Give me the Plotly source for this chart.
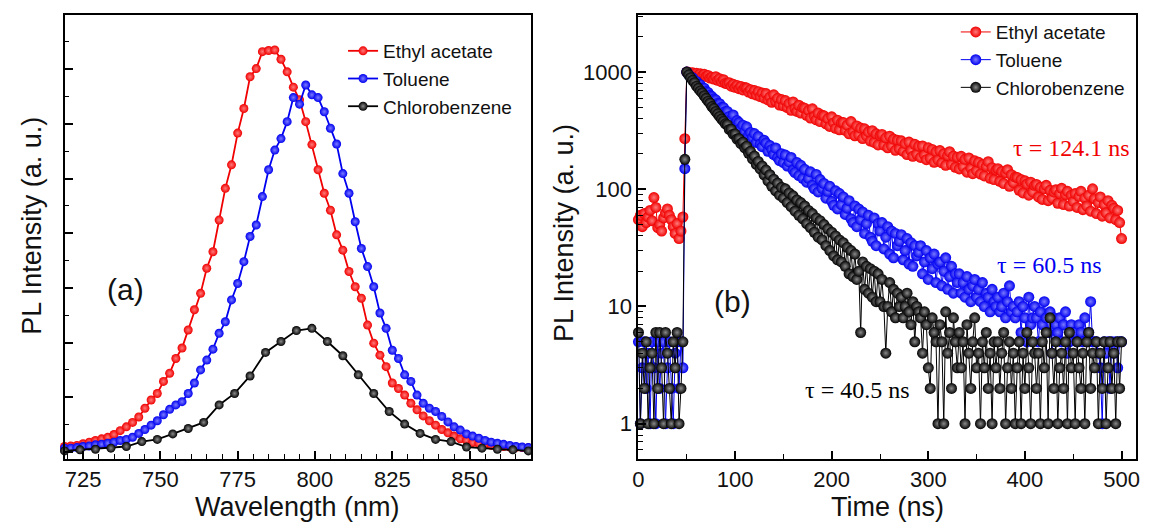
import plotly.graph_objects as go

# ---------------- Panel (a): PL spectra ----------------
wavelength_nm = list(range(719, 870, 2))        # 719 ... 869
wavelength_cb = list(range(719, 870, 5))        # 719 ... 869

pl_ethyl_acetate = [
    0.10, 0.11, 0.12, 0.15, 0.18, 0.21, 0.24, 0.27, 0.32, 0.39,
    0.46, 0.54, 0.64, 0.80, 0.95, 1.07, 1.29, 1.44, 1.71, 1.90,
    2.23, 2.60, 2.90, 3.36, 3.66, 4.24, 4.82, 5.25, 5.83, 6.28,
    6.86, 7.01, 7.32, 7.34, 7.35, 7.18, 6.95, 6.67, 6.44, 6.04,
    5.62, 5.16, 4.73, 4.42, 3.97, 3.69, 3.30, 3.02, 2.81, 2.32,
    1.99, 1.77, 1.56, 1.26, 1.16, 1.04, 0.89, 0.77, 0.66, 0.57,
    0.49, 0.41, 0.35, 0.29, 0.24, 0.21, 0.17, 0.15, 0.13, 0.12,
    0.10, 0.10, 0.09, 0.085, 0.08, 0.075]
pl_toluene = [
    0.07, 0.07, 0.08, 0.10, 0.11, 0.13, 0.14, 0.16, 0.18, 0.21,
    0.23, 0.27, 0.34, 0.41, 0.49, 0.57, 0.68, 0.78, 0.86, 0.92,
    1.07, 1.26, 1.50, 1.68, 1.88, 2.17, 2.38, 2.78, 3.08, 3.48,
    3.94, 4.15, 4.67, 5.16, 5.52, 5.73, 6.04, 6.48, 6.36, 6.71,
    6.53, 6.48, 6.22, 5.92, 5.63, 5.09, 4.73, 4.21, 3.72, 3.39,
    3.02, 2.54, 2.26, 1.86, 1.71, 1.41, 1.29, 1.04, 0.89, 0.80,
    0.74, 0.65, 0.55, 0.46, 0.40, 0.33, 0.29, 0.25, 0.21, 0.18,
    0.16, 0.14, 0.12, 0.10, 0.09, 0.08]
pl_chlorobenzene = [
    0.02, 0.04, 0.05, 0.07, 0.10, 0.19, 0.23, 0.33, 0.43, 0.54,
    0.86, 1.07, 1.39, 1.82, 2.02, 2.22, 2.26, 2.02, 1.76, 1.41,
    1.07, 0.74, 0.51, 0.34, 0.23, 0.19, 0.09, 0.07, 0.05, 0.04, 0.02]

# ---------------- Panel (b): TRPL decays ----------------
time_ns = list(range(0, 501, 2))                # 0 ... 500

trpl_ethyl_acetate = [
    55, 60, 48, 62, 52, 58, 66, 54, 85, 70, 47, 50, 44, 57, 63, 68, 60, 55, 48, 42, 51, 38, 44, 58,
    270, 1000,
    995, 968, 986, 950, 975, 938, 966, 925, 958, 917,
    936, 888, 905, 872, 912, 851, 878, 826, 860, 803,
    795, 812, 758, 787, 741, 769, 722, 754, 704, 737,
    731, 676, 708, 652, 695, 637, 681, 618, 662, 600,
    655, 578, 612, 552, 640, 561, 597, 523, 582, 515,
    571, 498, 540, 472, 556, 489, 462, 521, 447, 498,
    492, 428, 471, 405, 486, 419, 392, 447, 378, 428,
    423, 362, 401, 344, 415, 368, 331, 389, 322, 371,
    371, 318, 352, 297, 378, 309, 286, 347, 291, 333,
    271, 328, 285, 309, 258, 316, 251, 297, 239, 288,
    294, 238, 275, 226, 284, 233, 268, 215, 262, 222,
    259, 211, 246, 198, 253, 214, 191, 242, 199, 233,
    187, 234, 196, 179, 226, 184, 219, 170, 209, 178,
    214, 168, 201, 160, 194, 209, 163, 192, 154, 188,
    149, 191, 156, 180, 140, 185, 151, 136, 175, 144,
    170, 135, 162, 130, 157, 172, 124, 153, 121, 146,
    150, 117, 142, 112, 138, 147, 106, 133, 114, 127,
    126, 98, 121, 93, 118, 111, 89, 115, 95, 108,
    110, 86, 104, 82, 101, 108, 80, 98, 84, 95,
    99, 76, 92, 102, 74, 90, 96, 72, 89, 79,
    92, 70, 87, 96, 67, 84, 72, 89, 65, 101,
    83, 62, 77, 86, 59, 74, 63, 80, 57, 73,
    69, 55, 66, 52, 38]
trpl_toluene = [
    5, 1, 3, 5, 2, 4, 1, 5, 3, 1, 5, 2, 4, 5, 1, 3, 5, 2, 1, 4, 5, 2, 5, 3,
    150, 1000,
    952, 905, 893, 836, 831, 786, 778, 731, 728, 682,
    671, 633, 618, 589, 580, 543, 537, 500, 498, 461,
    462, 418, 397, 431, 362, 386, 371, 331, 352, 309,
    341, 291, 305, 276, 299, 251, 282, 243, 231, 262,
    248, 211, 236, 219, 198, 225, 187, 176, 201, 169,
    196, 158, 171, 187, 146, 139, 169, 131, 160, 124,
    148, 115, 124, 141, 108, 101, 134, 95, 121, 102,
    112, 84, 96, 106, 79, 73, 97, 68, 92, 74,
    86, 61, 69, 80, 56, 52, 72, 48, 68, 55,
    64, 42, 51, 60, 39, 36, 57, 33, 51, 44,
    52, 31, 39, 48, 28, 44, 26, 42, 33, 36,
    41, 25, 30, 38, 23, 35, 22, 33, 27, 29,
    33, 19, 24, 30, 17, 26, 21, 28, 16, 23,
    24, 15, 20, 26, 14, 18, 22, 13, 19, 16,
    19, 13, 16, 12, 18, 14, 11, 15, 17, 12,
    14, 11, 16, 10, 13, 12, 9, 14, 11, 10,
    12, 9, 10, 13, 8, 11, 15, 9, 10, 8,
    9, 11, 6, 10, 8, 5, 12, 7, 8, 10,
    8, 5, 9, 7, 11, 8, 6, 9, 4, 8,
    7, 6, 8, 5, 7, 9, 4, 5, 7, 6,
    6, 5, 7, 6, 5, 8, 5, 6, 11, 5,
    5, 5, 4, 3, 1, 5, 4, 5, 2, 5,
    4, 5, 3, 5, 5]
trpl_chlorobenzene = [
    6, 1, 4, 2, 5, 1, 3, 4, 1, 6, 2, 6, 3, 1, 6, 4, 2, 1, 5, 3, 6, 1, 2, 5,
    180, 1000,
    948, 896, 851, 812, 758, 727, 690, 664, 628, 597,
    565, 542, 508, 488, 462, 440, 418, 397, 381, 362,
    356, 324, 325, 295, 296, 268, 270, 245, 252, 226,
    233, 203, 211, 182, 192, 163, 173, 149, 158, 133,
    146, 118, 133, 106, 122, 97, 113, 89, 104, 84,
    101, 77, 93, 71, 88, 65, 81, 60, 77, 56,
    72, 51, 66, 47, 62, 43, 57, 39, 54, 37,
    50, 33, 46, 30, 43, 27, 40, 25, 37, 24,
    35, 22, 32, 19, 30, 18, 28, 17, 20, 6,
    24, 14, 22, 13, 21, 12, 20, 11, 19, 11,
    17, 10, 4, 10, 16, 9, 14, 8, 13, 10,
    12, 8, 10, 13, 9, 7, 11, 5, 10, 9,
    8, 4, 9, 7, 3, 2, 8, 6, 5, 1,
    7, 5, 1, 9, 4, 6, 2, 8, 5, 3,
    6, 3, 5, 1, 7, 4, 2, 5, 8, 3,
    4, 1, 5, 3, 6, 2, 4, 1, 5, 3,
    5, 2, 4, 6, 1, 3, 5, 2, 4, 1,
    3, 5, 1, 4, 2, 6, 3, 1, 5, 4,
    2, 4, 1, 5, 3, 6, 1, 8, 4, 2,
    5, 1, 3, 4, 2, 5, 1, 6, 3, 4,
    1, 5, 3, 2, 4, 1, 5, 6, 2, 4,
    3, 5, 1, 4, 2, 5, 1, 3, 5, 2,
    4, 1, 5, 2, 5]

series_names = ["Ethyl acetate", "Toluene", "Chlorobenzene"]
series_colors = ["#f00000", "#0000f0", "#000000"]
series_light = ["#ff7a7a", "#7a7aff", "#8a8a8a"]
tau_labels = ["\u03c4 = 124.1 ns", "\u03c4 = 60.5 ns", "\u03c4 = 40.5 ns"]

SANS = "Liberation Sans, Arial, sans-serif"
SERIF = "Liberation Serif, Times New Roman, serif"

fig = go.Figure()

spectra = [(wavelength_nm, pl_ethyl_acetate), (wavelength_nm, pl_toluene),
           (wavelength_cb, pl_chlorobenzene)]
for (xs, ys), name, col, lt in zip(spectra, series_names, series_colors, series_light):
    fig.add_trace(go.Scatter(
        x=xs, y=ys, name=name, mode="lines+markers", cliponaxis=False,
        line=dict(color=col, width=1.8),
        marker=dict(size=9, color=col, line=dict(width=0),
                    gradient=dict(type="radial", color=lt)),
        xaxis="x", yaxis="y", legend="legend"))

decays = [trpl_ethyl_acetate, trpl_toluene, trpl_chlorobenzene]
for ys, name, col, lt in zip(decays, series_names, series_colors, series_light):
    fig.add_trace(go.Scatter(
        x=time_ns, y=ys, name=name, mode="lines+markers", cliponaxis=False,
        line=dict(color=col, width=1),
        marker=dict(size=11, color=col, line=dict(width=0),
                    gradient=dict(type="radial", color=lt)),
        xaxis="x2", yaxis="y2", legend="legend2"))

axis_common = dict(showline=True, linewidth=2, linecolor="black", mirror=True,
                   showgrid=False, zeroline=False, ticks="inside", tickcolor="black",
                   tickwidth=1.5, ticklen=8,
                   tickfont=dict(family=SANS, size=22, color="#111"))
ydom = [0.1241, 0.9714]

minor_log = [0.5, 0.6, 0.7, 0.8, 0.9, 2, 3, 4, 5, 6, 7, 8, 9,
             20, 30, 40, 50, 60, 70, 80, 90, 200, 300, 400, 500, 600, 700, 800, 900,
             2000, 3000]

fig.update_layout(
    width=1151, height=524, margin=dict(l=0, r=0, t=0, b=0),
    paper_bgcolor="white", plot_bgcolor="white", showlegend=True,
    xaxis=dict(axis_common, domain=[0.0513, 0.4605], range=[719, 870],
               tick0=725, dtick=25, anchor="y",
               minor=dict(ticks="inside", dtick=5, ticklen=4.5, tickwidth=1.2,
                          tickcolor="black")),
    yaxis=dict(axis_common, domain=ydom, range=[-0.128, 7.99], tick0=0, dtick=1,
               showticklabels=False, anchor="x",
               minor=dict(ticks="inside", dtick=0.5, ticklen=4.5, tickwidth=1.2,
                          tickcolor="black")),
    xaxis2=dict(axis_common, domain=[0.5543, 0.9904], range=[0, 515],
                tick0=0, dtick=100, anchor="y2",
                minor=dict(ticks="inside", dtick=50, ticklen=4.5, tickwidth=1.2,
                           tickcolor="black")),
    yaxis2=dict(axis_common, domain=ydom, type="log", range=[-0.301, 3.487],
                tickmode="array", tickvals=[1, 10, 100, 1000],
                ticktext=["1", "10", "100", "1000"], anchor="x2",
                minor=dict(ticks="inside", tickmode="array", tickvals=minor_log,
                           ticklen=4.5, tickwidth=1.2, tickcolor="black")),
    legend=dict(x=0.2954, y=0.939, xanchor="left", yanchor="top",
                bgcolor="rgba(0,0,0,0)", font=dict(family=SANS, size=19, color="#111"),
                tracegroupgap=0),
    legend2=dict(x=0.8324, y=0.975, xanchor="left", yanchor="top",
                 bgcolor="rgba(0,0,0,0)", font=dict(family=SANS, size=19, color="#111"),
                 tracegroupgap=0),
)

annotations = [
    dict(text="Wavelength (nm)", x=0.2559, y=0.0324, font=dict(family=SANS, size=27, color="#111")),
    dict(text="Time (ns)", x=0.7724, y=0.0324, font=dict(family=SANS, size=27, color="#111")),
    dict(text="PL Intensity (a. u.)", x=0.0226, y=0.5687, textangle=-90,
         font=dict(family=SANS, size=27, color="#111")),
    dict(text="PL Intensity (a. u.)", x=0.4891, y=0.5553, textangle=-90,
         font=dict(family=SANS, size=27, color="#111")),
    dict(text="(a)", x=0.1051, y=0.4466, font=dict(family=SANS, size=30, color="#111")),
    dict(text="(b)", x=0.6368, y=0.4237, font=dict(family=SANS, size=30, color="#111")),
    dict(text=tau_labels[0], x=0.934, y=0.7176, font=dict(family=SERIF, size=24, color=series_colors[0])),
    dict(text=tau_labels[1], x=0.9149, y=0.4943, font=dict(family=SERIF, size=24, color=series_colors[1])),
    dict(text=tau_labels[2], x=0.7463, y=0.2557, font=dict(family=SERIF, size=24, color=series_colors[2])),
]
for a in annotations:
    a.update(xref="paper", yref="paper", showarrow=False, xanchor="center", yanchor="middle")
fig.update_layout(annotations=annotations)

fig.write_html("out.html")
